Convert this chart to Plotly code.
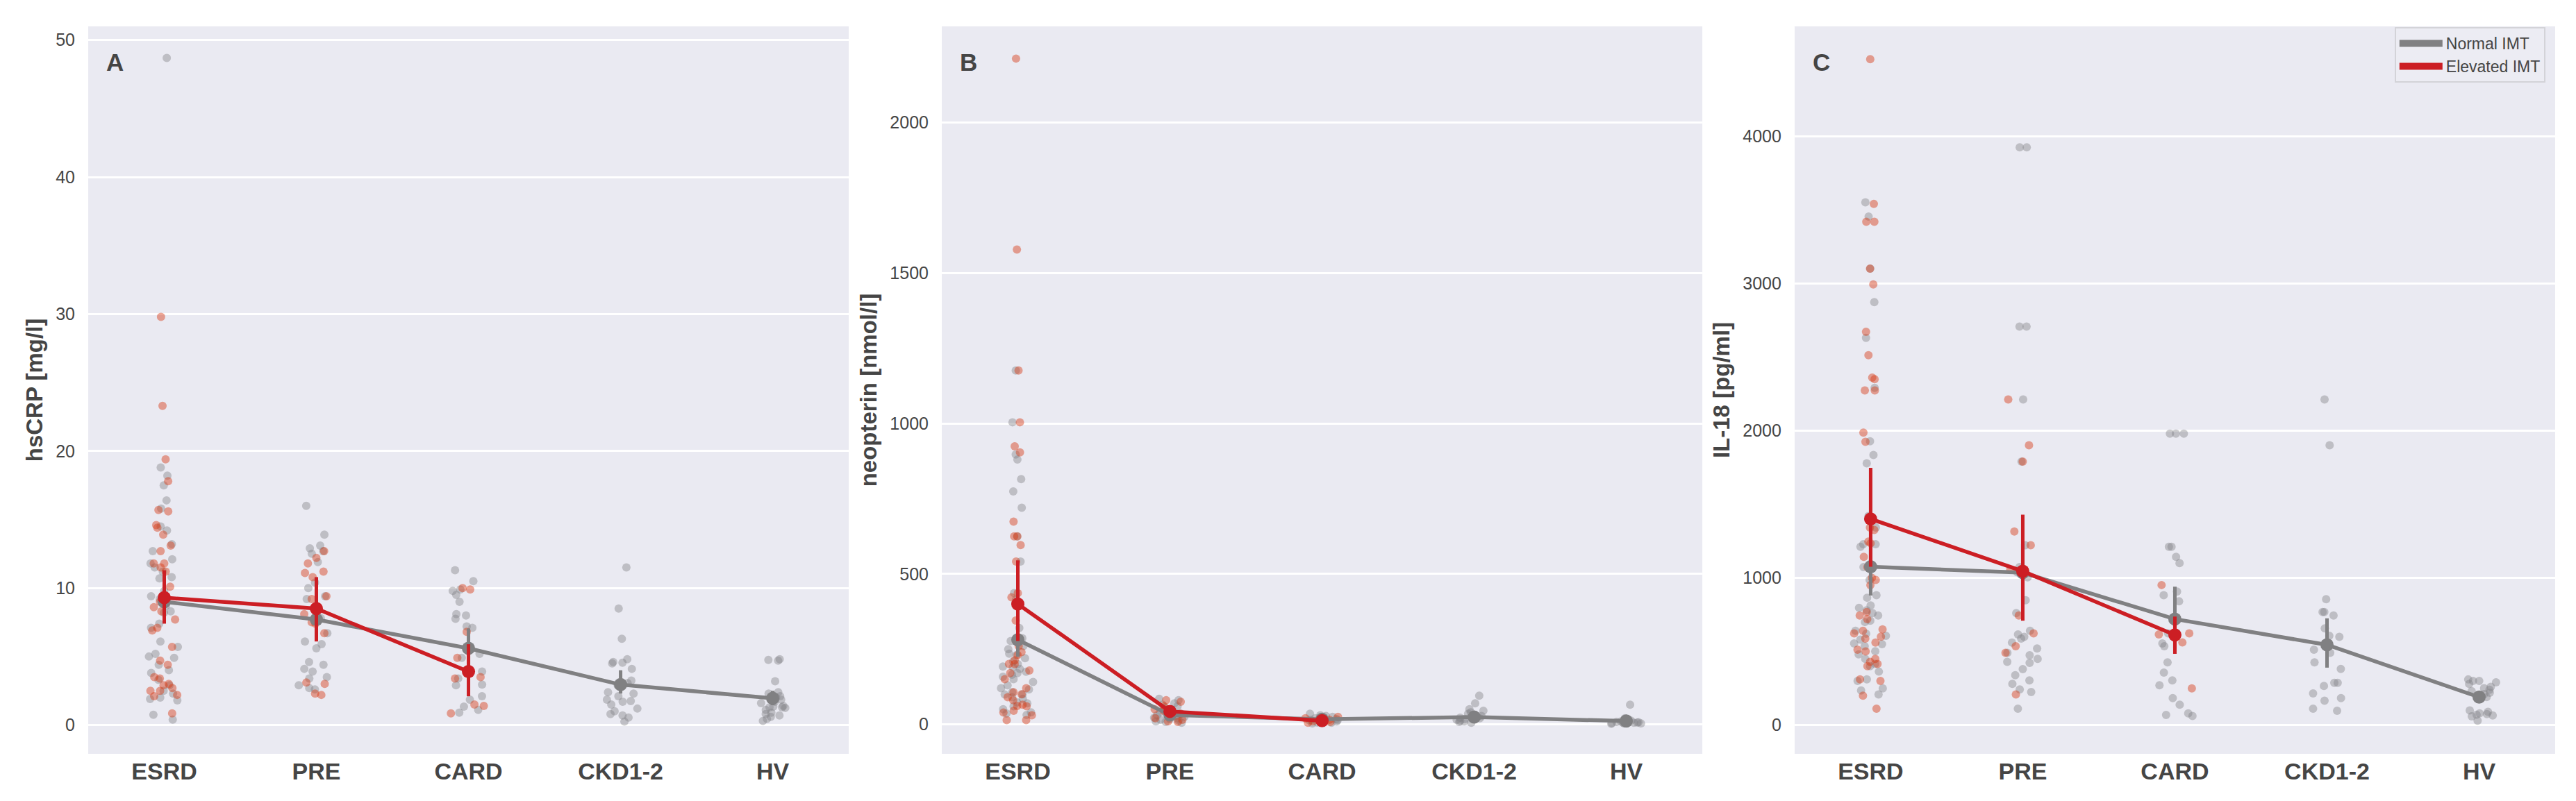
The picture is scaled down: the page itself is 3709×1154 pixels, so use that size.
import plotly.graph_objects as go

# ---------------- data ----------------
CATEGORIES = ["ESRD", "PRE", "CARD", "CKD1-2", "HV"]
ELEV_CATEGORIES = ["ESRD", "PRE", "CARD"]

# Panel A: hsCRP [mg/l]
crp_normal_esrd = [48.7, 18.8, 18.2, 17.5, 16.4, 15.8, 14.5, 14.2, 13.2, 12.7, 12.1, 11.8, 11.5, 11.2,
                   10.8, 10.7, 9.8, 9.4, 9.2, 8.7, 8.3, 8.2, 7.4, 7.1, 6.1, 5.7, 5.2, 5.0, 4.9, 4.4,
                   4.0, 3.8, 3.3, 2.9, 2.5, 2.3, 2.0, 1.9, 1.8, 0.75, 0.4]
crp_normal_pre = [16.0, 13.9, 13.1, 12.9, 12.7, 12.5, 11.9, 10.4, 10.0, 9.4, 9.2, 7.8, 6.7, 6.1, 5.9,
                  5.6, 4.6, 4.4, 4.1, 3.9, 3.5, 3.4, 2.9, 2.7, 2.6]
crp_normal_card = [11.3, 10.5, 9.9, 9.8, 9.5, 9.0, 8.1, 8.0, 7.75, 7.2, 7.1, 5.2, 4.9, 3.9, 3.4, 2.95,
                   2.9, 2.1, 1.85, 1.35, 1.1, 0.9]
crp_normal_ckd = [11.5, 8.5, 6.3, 4.8, 4.6, 4.55, 4.5, 4.1, 3.25, 3.05, 2.9, 2.4, 2.3, 2.1, 1.85, 1.75,
                  1.7, 1.5, 1.2, 1.0, 0.8, 0.7, 0.55, 0.25]
crp_normal_hv = [4.8, 4.75, 4.7, 3.2, 2.4, 2.3, 2.1, 2.0, 1.9, 1.85, 1.7, 1.6, 1.4, 1.35, 1.3, 1.3, 1.25,
                 1.1, 0.9, 0.8, 0.7, 0.6, 0.45, 0.3]
crp_elev_esrd = [29.8, 23.3, 19.4, 17.8, 15.7, 15.6, 14.6, 14.4, 13.9, 13.1, 12.7, 11.8, 11.8, 11.5, 11.2,
                 10.1, 9.4, 9.0, 8.6, 8.3, 7.7, 7.1, 6.9, 5.7, 4.7, 4.4, 3.5, 3.4, 3.0, 2.9, 2.7, 2.5,
                 2.5, 2.2, 2.1, 0.85]
crp_elev_pre = [12.7, 12.2, 11.8, 11.2, 11.1, 10.8, 9.4, 9.2, 8.1, 7.5, 7.4, 6.7, 3.1, 3.0, 2.3, 2.2]
crp_elev_card = [10.0, 9.9, 6.8, 4.9, 3.5, 3.4, 1.5, 1.4, 0.85]
crp_normal_mean = [9.0, 7.7, 5.6, 2.95, 1.95]
crp_normal_lo = [7.6, 6.5, 4.0, 2.3, 1.45]
crp_normal_hi = [10.5, 9.0, 7.05, 4.0, 2.5]
crp_elev_mean = [9.3, 8.5, 3.9]
crp_elev_lo = [7.4, 6.1, 2.1]
crp_elev_hi = [11.3, 10.8, 5.9]

# Panel B: neopterin [nmol/l]
neo_normal_esrd = [1176, 1004, 897, 880, 815, 774, 720, 625, 541, 436, 414, 320, 286, 277, 260, 250, 235,
                   230, 220, 209, 200, 192, 190, 184, 175, 170, 165, 158, 150, 141, 130, 120, 116, 107,
                   100, 99, 90, 85, 73, 70, 60, 50, 40, 36, 31]
neo_normal_pre = [85, 80, 70, 65, 60, 55, 50, 45, 40, 35, 30, 28, 25, 22, 20, 18, 15, 12, 10, 8, 5]
neo_normal_card = [35, 30, 28, 25, 20, 18, 15, 14, 12, 10, 8, 6, 5, 3]
neo_normal_ckd = [95, 70, 50, 45, 40, 35, 30, 28, 25, 22, 20, 18, 15, 12, 10, 8, 5]
neo_normal_hv = [65, 20, 15, 12, 10, 9, 8, 7, 6, 5, 5, 4, 3, 3, 2]
neo_elev_esrd = [2213, 1578, 1176, 1004, 924, 904, 674, 625, 625, 596, 541, 436, 422, 345, 260, 240, 230,
                 213, 201, 200, 179, 170, 150, 120, 107, 100, 90, 80, 65, 61, 60, 45, 39, 30, 14, 14]
neo_elev_pre = [80, 75, 60, 50, 45, 40, 35, 20, 15, 10, 8]
neo_elev_card = [25, 20, 15, 12, 10, 8, 5]
neo_normal_mean = [281, 31, 17, 24, 11]
neo_normal_lo = [225, 24, 13, 18, 8]
neo_normal_hi = [340, 40, 21, 32, 15]
neo_elev_mean = [400, 43, 12]
neo_elev_lo = [277, 34, 8]
neo_elev_hi = [545, 53, 16]

# Panel C: IL-18 [pg/ml]
il18_normal_esrd = [3550, 3453, 3100, 2872, 2630, 2290, 1927, 1834, 1778, 1419, 1401, 1342, 1228, 1228,
                    1211, 1073, 986, 882, 865, 813, 796, 780, 761, 744, 709, 700, 640, 620, 606, 580,
                    554, 550, 536, 502, 480, 450, 415, 400, 363, 311, 300, 249, 235, 208]
il18_normal_pre = [3924, 3924, 2706, 2706, 2211, 1789, 1221, 1073, 1038, 1003, 848, 761, 640, 616, 599,
                   588, 560, 520, 491, 474, 450, 430, 422, 380, 339, 304, 280, 242, 225, 111]
il18_normal_card = [1979, 1979, 1979, 1211, 1211, 1142, 1100, 907, 882, 841, 623, 554, 536, 426, 356,
                    304, 270, 183, 138, 80, 69, 62]
il18_normal_ckd = [2211, 1900, 855, 768, 768, 744, 657, 606, 599, 512, 491, 426, 381, 287, 287, 266,
                   215, 183, 166, 111, 97]
il18_normal_hv = [310, 300, 300, 290, 280, 260, 250, 240, 230, 220, 210, 200, 190, 180, 100, 90, 80, 75,
                  70, 65, 60, 30]
il18_elev_esrd = [4522, 3540, 3418, 3418, 3100, 2993, 2671, 2512, 2360, 2349, 2273, 2273, 1986, 1924,
                  1342, 1325, 1246, 1235, 1142, 1073, 1000, 986, 950, 768, 744, 720, 650, 640, 623, 600,
                  588, 560, 512, 500, 450, 430, 415, 400, 311, 300, 200, 111]
il18_elev_pre = [2211, 1900, 1789, 1315, 1221, 1055, 744, 623, 536, 491, 208]
il18_elev_card = [951, 623, 616, 561, 249]
il18_normal_mean = [1075, 1035, 720, 545, 190]
il18_normal_lo = [880, 850, 520, 390, 160]
il18_normal_hi = [1270, 1230, 940, 725, 220]
il18_elev_mean = [1400, 1045, 612]
il18_elev_lo = [1075, 709, 484]
il18_elev_hi = [1747, 1429, 737]

Y_TITLES = ["hsCRP [mg/l]", "neopterin [nmol/l]", "IL-18 [pg/ml]"]
PANEL_LETTERS = ["A", "B", "C"]
Y_TICKS = [[0, 10, 20, 30, 40, 50], [0, 500, 1000, 1500, 2000], [0, 1000, 2000, 3000, 4000]]
Y_RANGES = [[-2.1, 51.0], [-98, 2320], [-195, 4745]]
LEGEND_NAMES = ["Normal IMT", "Elevated IMT"]

# ---------------- styling ----------------
FONT = "Liberation Sans, Arial, Helvetica, sans-serif"
TEXT = "#454545"
BG = "#EAEAF2"
GRAY = "rgb(128,128,130)"
RED = "rgb(204,30,36)"
GRAY_PT = "rgba(128,128,134,0.42)"
RED_PT = "rgba(214,58,20,0.45)"

panels = [
    dict(normal=[crp_normal_esrd, crp_normal_pre, crp_normal_card, crp_normal_ckd, crp_normal_hv],
         elev=[crp_elev_esrd, crp_elev_pre, crp_elev_card],
         nm=crp_normal_mean, nlo=crp_normal_lo, nhi=crp_normal_hi,
         em=crp_elev_mean, elo=crp_elev_lo, ehi=crp_elev_hi),
    dict(normal=[neo_normal_esrd, neo_normal_pre, neo_normal_card, neo_normal_ckd, neo_normal_hv],
         elev=[neo_elev_esrd, neo_elev_pre, neo_elev_card],
         nm=neo_normal_mean, nlo=neo_normal_lo, nhi=neo_normal_hi,
         em=neo_elev_mean, elo=neo_elev_lo, ehi=neo_elev_hi),
    dict(normal=[il18_normal_esrd, il18_normal_pre, il18_normal_card, il18_normal_ckd, il18_normal_hv],
         elev=[il18_elev_esrd, il18_elev_pre, il18_elev_card],
         nm=il18_normal_mean, nlo=il18_normal_lo, nhi=il18_normal_hi,
         em=il18_elev_mean, elo=il18_elev_lo, ehi=il18_elev_hi),
]


def flatten(cats, groups):
    xs, ys = [], []
    for c, vals in zip(cats, groups):
        xs += [c] * len(vals)
        ys += list(vals)
    return xs, ys


fig = go.Figure()

# points first
for i, p in enumerate(panels):
    xa = "x" if i == 0 else f"x{i+1}"
    ya = "y" if i == 0 else f"y{i+1}"
    for cats, groups, col in [(CATEGORIES, p["normal"], GRAY_PT), (ELEV_CATEGORIES, p["elev"], RED_PT)]:
        xs, ys = flatten(cats, groups)
        fig.add_trace(go.Box(
            x=xs, y=ys, xaxis=xa, yaxis=ya,
            boxpoints="all", jitter=0.85, pointpos=0, width=0.28,
            fillcolor="rgba(0,0,0,0)", line=dict(width=0, color="rgba(0,0,0,0)"),
            marker=dict(color=col, size=12, line=dict(width=0)),
            showlegend=False, hoverinfo="skip"))

# means with CI
for i, p in enumerate(panels):
    xa = "x" if i == 0 else f"x{i+1}"
    ya = "y" if i == 0 else f"y{i+1}"
    for cats, m, lo, hi, col in [(CATEGORIES, p["nm"], p["nlo"], p["nhi"], GRAY),
                                  (ELEV_CATEGORIES, p["em"], p["elo"], p["ehi"], RED)]:
        fig.add_trace(go.Scatter(
            x=cats, y=m, xaxis=xa, yaxis=ya, mode="lines+markers",
            line=dict(color=col, width=5.5), marker=dict(color=col, size=19),
            error_y=dict(type="data", symmetric=False,
                         array=[h - v for h, v in zip(hi, m)],
                         arrayminus=[v - l for v, l in zip(m, lo)],
                         color=col, thickness=5, width=0),
            showlegend=False, hoverinfo="skip"))

# legend-only traces
for name, col in zip(LEGEND_NAMES, [GRAY, RED]):
    fig.add_trace(go.Scatter(x=[None], y=[None], xaxis="x3", yaxis="y3", mode="lines",
                             line=dict(color=col, width=10), name=name))

domains = [[0.0, 0.3083], [0.3460, 0.6543], [0.6917, 1.0]]
layout = dict(
    width=3709, height=1154,
    margin=dict(l=119, r=38, t=30, b=76),
    paper_bgcolor="white", plot_bgcolor=BG,
    font=dict(family=FONT, color=TEXT),
    boxmode="overlay",
    legend=dict(x=0.996, y=0.999, xanchor="right", yanchor="top",
                bgcolor="rgba(236,236,243,0.9)", bordercolor="#d3d3d8", borderwidth=2,
                font=dict(size=23, color=TEXT), itemwidth=62, tracegroupgap=0),
    annotations=[],
)
for i in range(3):
    xk = "xaxis" if i == 0 else f"xaxis{i+1}"
    yk = "yaxis" if i == 0 else f"yaxis{i+1}"
    layout[xk] = dict(domain=domains[i], anchor="y" if i == 0 else f"y{i+1}",
                      type="category", categoryorder="array", categoryarray=CATEGORIES,
                      range=[-0.5, 4.5], showgrid=False, zeroline=False, showline=False,
                      ticks="", ticklabelstandoff=2,
                      tickfont=dict(size=34, weight="bold", color=TEXT, family=FONT))
    layout[yk] = dict(domain=[0, 1], anchor="x" if i == 0 else f"x{i+1}",
                      range=Y_RANGES[i], tickmode="array", tickvals=Y_TICKS[i],
                      showgrid=True, gridcolor="white", gridwidth=3, zeroline=False,
                      showline=False, ticks="", ticklabelstandoff=18,
                      tickfont=dict(size=25, color=TEXT, family=FONT),
                      title=dict(text=Y_TITLES[i], standoff=8,
                                 font=dict(size=33, weight="bold", color=TEXT, family=FONT)))
    layout["annotations"].append(dict(
        text=PANEL_LETTERS[i], xref=("x" if i == 0 else f"x{i+1}") + " domain",
        yref=("y" if i == 0 else f"y{i+1}") + " domain", x=0.022, y=0.951,
        xanchor="left", yanchor="middle", showarrow=False,
        font=dict(size=35, weight="bold", color=TEXT, family=FONT)))

fig.update_layout(**layout)
fig.write_html("out.html")
